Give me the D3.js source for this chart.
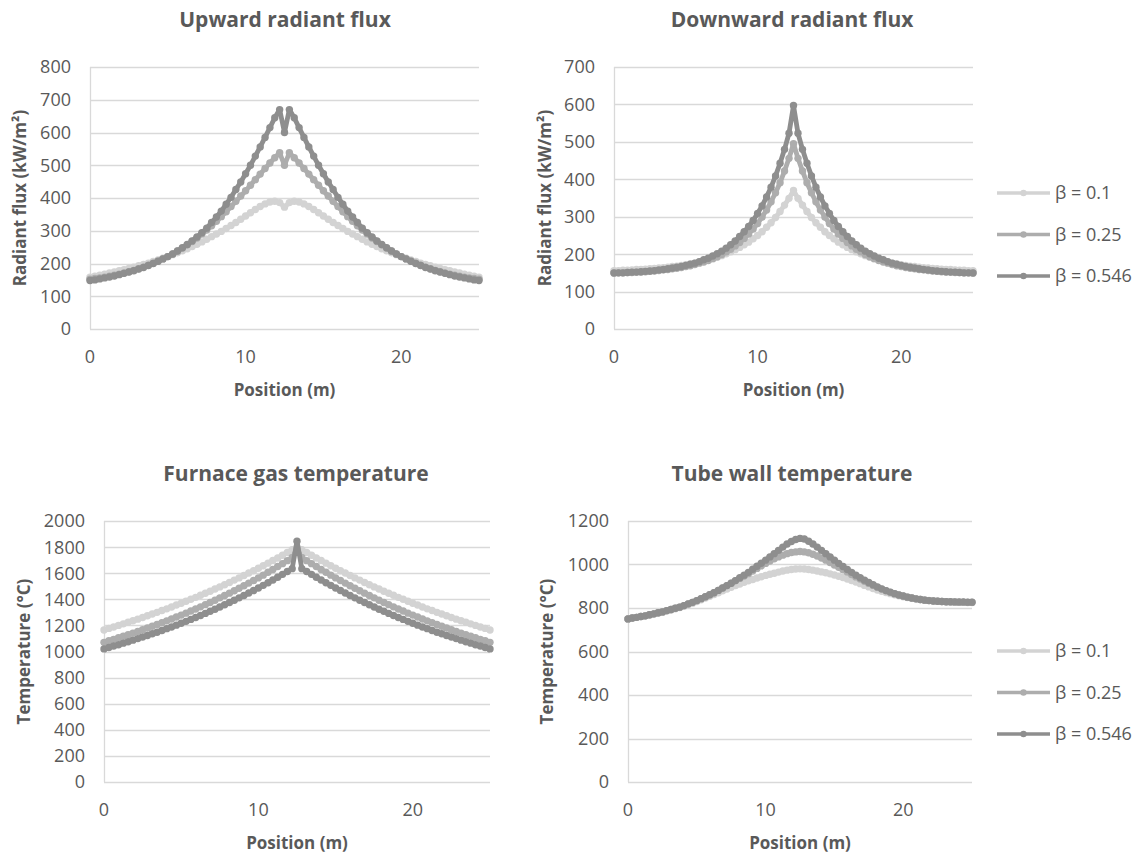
<!DOCTYPE html>
<html>
<head>
<meta charset="utf-8">
<script src="https://cdn.jsdelivr.net/npm/d3@7"></script>
<style>
  body { margin: 0; background: #fff; }
  text { font-family: "Open Sans", Lato, sans-serif; fill: #595959; }
</style>
</head>
<body>
<svg id="figure" width="1147" height="858"></svg>
<script>
// position along the furnace (m)
var position = [0, 0.3125, 0.625, 0.9375, 1.25, 1.5625, 1.875, 2.1875, 2.5, 2.8125, 3.125, 3.4375, 3.75, 4.0625, 4.375, 4.6875, 5, 5.3125, 5.625, 5.9375, 6.25, 6.5625, 6.875, 7.1875, 7.5, 7.8125, 8.125, 8.4375, 8.75, 9.0625, 9.375, 9.6875, 10, 10.3125, 10.625, 10.9375, 11.25, 11.5625, 11.875, 12.1875, 12.5, 12.8125, 13.125, 13.4375, 13.75, 14.0625, 14.375, 14.6875, 15, 15.3125, 15.625, 15.9375, 16.25, 16.5625, 16.875, 17.1875, 17.5, 17.8125, 18.125, 18.4375, 18.75, 19.0625, 19.375, 19.6875, 20, 20.3125, 20.625, 20.9375, 21.25, 21.5625, 21.875, 22.1875, 22.5, 22.8125, 23.125, 23.4375, 23.75, 24.0625, 24.375, 24.6875, 25];

var betaLabels = ['β = 0.1', 'β = 0.25', 'β = 0.546'];

// upward radiant flux (kW/m2)
var upFlux01 = [158,161,164,167,171,174,178,181,185,189,193,197,201,206,211,216,221,227,233,239,245,252,259,266,274,282,290,298,307,316,325,335,345,355,365,374,382,388,390,386,372,386,390,388,382,374,365,355,345,335,325,316,307,298,290,282,274,266,259,252,245,239,233,227,221,216,211,206,201,197,193,189,185,181,178,174,171,167,164,161,158];
var upFlux025 = [152,154,156,158,161,164,167,171,175,179,184,189,195,201,207,214,221,229,238,247,257,267,278,290,302,315,329,343,358,374,390,406,422,439,456,473,490,507,523,538,500,538,523,507,490,473,456,439,422,406,390,374,358,343,329,315,302,290,278,267,257,247,238,229,221,214,207,201,195,189,184,179,175,171,167,164,161,158,156,154,152];
var upFlux0546 = [148,150,153,156,159,162,166,170,174,178,183,188,194,200,207,214,221,229,238,248,258,269,281,294,308,325,342,360,381,402,426,449,474,500,528,556,585,615,645,670,600,670,645,615,585,556,528,500,474,449,426,402,381,360,342,325,308,294,281,269,258,248,238,229,221,214,207,200,194,188,183,178,174,170,166,162,159,156,153,150,148];

// downward radiant flux (kW/m2)
var downFlux01 = [156,156,157,157,158,159,159,160,161,162,163,164,165,167,168,170,172,174,176,179,182,185,188,192,196,201,206,212,218,225,232,241,250,260,272,284,298,314,331,349,370,349,331,314,298,284,272,260,250,241,232,225,218,212,206,201,196,192,188,185,182,179,176,174,172,170,168,167,165,164,163,162,161,160,159,159,158,157,157,156,156];
var downFlux025 = [149,150,150,151,151,152,152,153,154,155,156,158,159,161,162,164,167,169,172,176,179,183,188,193,199,206,213,222,231,242,254,267,282,299,318,340,364,391,422,456,495,456,422,391,364,340,318,299,282,267,254,242,231,222,213,206,199,193,188,183,179,176,172,169,167,164,162,161,159,158,156,155,154,153,152,152,151,151,150,150,149];
var downFlux0546 = [150,150,150,151,152,152,153,154,155,156,158,159,161,163,165,167,170,173,176,180,185,189,195,201,208,216,225,235,247,260,274,290,309,329,353,379,409,443,480,523,597,523,480,443,409,379,353,329,309,290,274,260,247,235,225,216,208,201,195,189,185,180,176,173,170,167,165,163,161,159,158,156,155,154,153,152,152,151,150,150,150];

// furnace gas temperature (°C)
var gasTemp01 = [1165,1177,1188,1200,1212,1224,1236,1248,1261,1274,1287,1300,1314,1327,1341,1356,1370,1385,1400,1415,1431,1446,1462,1479,1495,1512,1529,1547,1564,1582,1601,1619,1638,1657,1677,1697,1717,1738,1759,1780,1797,1780,1759,1738,1717,1697,1677,1657,1638,1619,1601,1582,1564,1547,1529,1512,1495,1479,1462,1446,1431,1415,1400,1385,1370,1356,1341,1327,1314,1300,1287,1274,1261,1248,1236,1224,1212,1200,1188,1177,1165];
var gasTemp025 = [1070,1082,1093,1105,1117,1129,1141,1154,1167,1180,1193,1207,1221,1235,1249,1264,1279,1294,1310,1326,1342,1359,1376,1393,1411,1429,1447,1465,1485,1504,1524,1544,1564,1585,1607,1628,1651,1673,1696,1720,1785,1720,1696,1673,1651,1628,1607,1585,1564,1544,1524,1504,1485,1465,1447,1429,1411,1393,1376,1359,1342,1326,1310,1294,1279,1264,1249,1235,1221,1207,1193,1180,1167,1154,1141,1129,1117,1105,1093,1082,1070];
var gasTemp0546 = [1020,1031,1042,1052,1064,1075,1087,1099,1111,1123,1136,1148,1161,1175,1188,1202,1217,1231,1246,1261,1276,1292,1308,1324,1341,1358,1375,1393,1411,1429,1448,1467,1487,1507,1527,1548,1569,1591,1613,1635,1845,1635,1613,1591,1569,1548,1527,1507,1487,1467,1448,1429,1411,1393,1375,1358,1341,1324,1308,1292,1276,1261,1246,1231,1217,1202,1188,1175,1161,1148,1136,1123,1111,1099,1087,1075,1064,1052,1042,1031,1020];

// tube wall temperature (°C)
var wallTemp01 = [750,754,757,761,764,768,772,776,781,786,791,796,802,808,815,822,830,838,846,854,862,870,879,887,895,903,910,918,925,931,938,944,950,955,960,965,970,974,977,979,980,979,977,974,970,966,962,957,952,946,940,933,926,919,912,904,897,890,883,877,871,866,861,856,852,848,845,842,839,837,835,833,831,830,829,828,827,826,826,825,825];
var wallTemp025 = [750,754,757,761,764,769,773,778,782,788,793,799,804,811,819,826,834,843,852,861,870,881,892,903,914,926,936,947,958,970,982,994,1005,1016,1026,1035,1043,1050,1055,1058,1060,1058,1054,1047,1039,1030,1020,1009,998,987,976,965,954,943,933,923,913,904,895,887,879,872,866,860,855,850,846,842,839,836,834,832,831,830,829,828,828,827,827,826,826];
var wallTemp0546 = [750,754,757,761,764,769,773,778,782,788,793,799,804,811,819,826,834,843,852,861,870,881,892,903,914,926,939,951,964,978,992,1006,1020,1035,1050,1065,1080,1094,1106,1115,1120,1117,1107,1094,1080,1065,1050,1035,1020,1005,991,977,964,951,939,928,917,907,897,888,880,873,866,860,855,850,846,842,839,836,834,832,831,830,829,829,828,828,828,827,827];

var xTicks = [0, 10, 20];
var upTicks = [0, 100, 200, 300, 400, 500, 600, 700, 800];
var downTicks = [0, 100, 200, 300, 400, 500, 600, 700];
var gasTicks = [0, 200, 400, 600, 800, 1000, 1200, 1400, 1600, 1800, 2000];
var wallTicks = [0, 200, 400, 600, 800, 1000, 1200];

var colors = ['#d3d3d3', '#adadad', '#8e8e8e'];

function lineChart() {
  var _chart = {};
  var _left = 0, _top = 0, _width = 300, _height = 200,
    _x, _y, _yTicks, _series = [],
    _title, _titleX, _yTitle, _yTitleX = 26, _xTitle = 'Position (m)', _bodyG;

  _chart.render = function (svg) {
    _x.range([0, _width]);
    _y.range([_height, 0]);
    _bodyG = svg.append('g')
      .attr('transform', 'translate(' + _left + ',' + _top + ')');
    renderAxes();
    renderLines();
    renderTitles();
  };

  function renderAxes() {
    var grid = _bodyG.append('g').attr('class', 'grid');
    grid.selectAll('line.h')
      .data(_yTicks)
      .enter().append('line')
      .attr('x1', 0).attr('x2', _width)
      .attr('y1', function (d) { return Math.round(_y(d)) + 0.5; })
      .attr('y2', function (d) { return Math.round(_y(d)) + 0.5; })
      .style('stroke', '#d9d9d9').style('stroke-width', 1.3);
    grid.append('line')
      .attr('x1', 0.5).attr('x2', 0.5)
      .attr('y1', 0).attr('y2', _height)
      .style('stroke', '#d9d9d9').style('stroke-width', 1.3);

    _bodyG.selectAll('text.ytick')
      .data(_yTicks)
      .enter().append('text')
      .attr('class', 'ytick')
      .attr('x', -19)
      .attr('y', function (d) { return _y(d); })
      .attr('dy', '0.36em')
      .attr('text-anchor', 'end')
      .style('font-size', '18px')
      .text(function (d) { return d; });

    _bodyG.selectAll('text.xtick')
      .data(xTicks)
      .enter().append('text')
      .attr('class', 'xtick')
      .attr('x', function (d) { return _x(d); })
      .attr('y', _height + 34)
      .attr('text-anchor', 'middle')
      .style('font-size', '18px')
      .text(function (d) { return d; });
  }

  function renderLines() {
    var line = d3.line()
      .x(function (d, i) { return _x(position[i]); })
      .y(function (d) { return _y(d); });

    _series.forEach(function (s, j) {
      _bodyG.append('path')
        .attr('d', line(s))
        .style('fill', 'none')
        .style('stroke', colors[j])
        .style('stroke-width', 4.8)
        .style('stroke-linejoin', 'round')
        .style('stroke-linecap', 'round');
      _bodyG.append('g').selectAll('circle')
        .data(s)
        .enter().append('circle')
        .attr('cx', function (d, i) { return _x(position[i]); })
        .attr('cy', function (d) { return _y(d); })
        .attr('r', 3.7)
        .style('fill', colors[j]);
    });
  }

  function renderTitles() {
    _bodyG.append('text')
      .attr('x', _titleX - _left)
      .attr('y', -40)
      .attr('text-anchor', 'middle')
      .style('font-size', '21px')
      .style('font-weight', 'bold')
      .text(_title);
    _bodyG.append('text')
      .attr('x', _width / 2)
      .attr('y', _height + 67)
      .attr('text-anchor', 'middle')
      .style('font-size', '17px')
      .style('font-weight', 'bold')
      .text(_xTitle);
    _bodyG.append('text')
      .attr('transform', 'translate(' + (_yTitleX - _left) + ',' + (_height / 2) + ') rotate(-90)')
      .attr('text-anchor', 'middle')
      .style('font-size', '17px')
      .style('font-weight', 'bold')
      .text(_yTitle);
  }

  _chart.box = function (l, t, w, h) {
    _left = l; _top = t; _width = w; _height = h;
    return _chart;
  };
  _chart.x = function (x) { _x = x; return _chart; };
  _chart.y = function (y) { _y = y; return _chart; };
  _chart.yTicks = function (t) { _yTicks = t; return _chart; };
  _chart.series = function (s) { _series = s; return _chart; };
  _chart.title = function (t, tx) { _title = t; _titleX = tx; return _chart; };
  _chart.yTitle = function (t, tx) { _yTitle = t; _yTitleX = tx; return _chart; };

  return _chart;
}

function legend(svg, top) {
  var g = svg.append('g').attr('transform', 'translate(997,' + top + ')');
  betaLabels.forEach(function (label, i) {
    var row = g.append('g').attr('transform', 'translate(0,' + (i * 41.5) + ')');
    row.append('line')
      .attr('x1', 0).attr('x2', 53)
      .style('stroke', colors[i]).style('stroke-width', 3.5);
    row.append('circle')
      .attr('cx', 26.5).attr('r', 3.2)
      .style('fill', colors[i]);
    row.append('text')
      .attr('x', 58).attr('dy', '0.36em')
      .style('font-size', '18px')
      .text(label);
  });
}

var svg = d3.select('#figure');

lineChart()
  .box(90, 67, 389, 262)
  .x(d3.scaleLinear().domain([0, 25]))
  .y(d3.scaleLinear().domain([0, 800]))
  .yTicks(upTicks)
  .series([upFlux01, upFlux025, upFlux0546])
  .title('Upward radiant flux', 285)
  .yTitle('Radiant flux (kW/m²)', 26)
  .render(svg);

lineChart()
  .box(614, 67, 359, 262)
  .x(d3.scaleLinear().domain([0, 25]))
  .y(d3.scaleLinear().domain([0, 700]))
  .yTicks(downTicks)
  .series([downFlux01, downFlux025, downFlux0546])
  .title('Downward radiant flux', 792)
  .yTitle('Radiant flux (kW/m²)', 551)
  .render(svg);

lineChart()
  .box(104, 521, 386, 261)
  .x(d3.scaleLinear().domain([0, 25]))
  .y(d3.scaleLinear().domain([0, 2000]))
  .yTicks(gasTicks)
  .series([gasTemp01, gasTemp025, gasTemp0546])
  .title('Furnace gas temperature', 296)
  .yTitle('Temperature (°C)', 30)
  .render(svg);

lineChart()
  .box(628, 521, 344, 261)
  .x(d3.scaleLinear().domain([0, 25]))
  .y(d3.scaleLinear().domain([0, 1200]))
  .yTicks(wallTicks)
  .series([wallTemp01, wallTemp025, wallTemp0546])
  .title('Tube wall temperature', 792)
  .yTitle('Temperature (°C)', 553)
  .render(svg);

legend(svg, 193);
legend(svg, 651);
</script>
</body>
</html>
